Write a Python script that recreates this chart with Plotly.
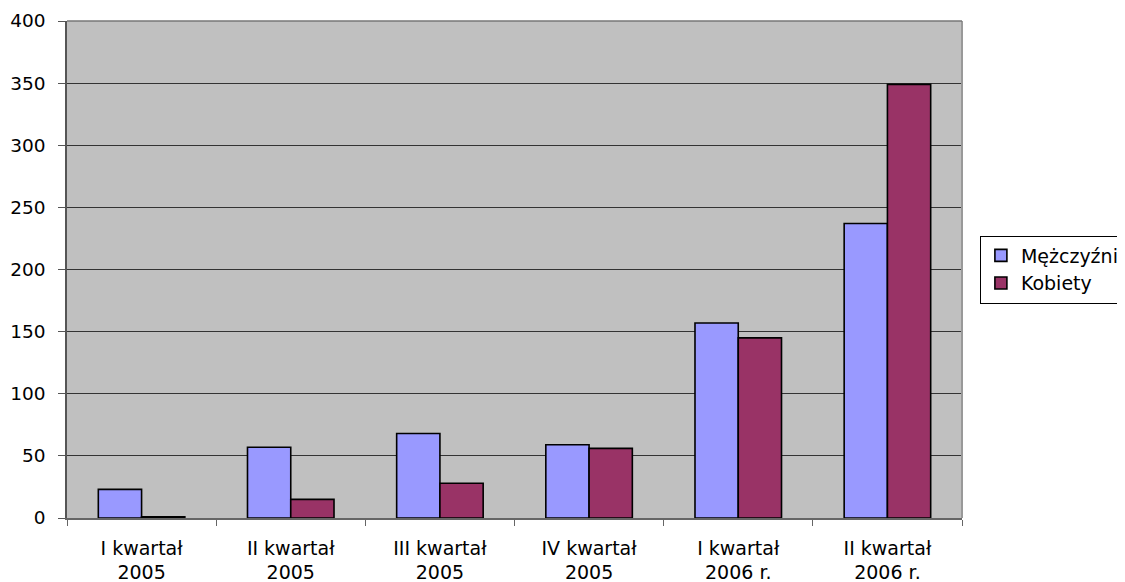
import plotly.graph_objects as go

categories = ["I kwartał<br>2005", "II kwartał<br>2005", "III kwartał<br>2005",
              "IV kwartał<br>2005", "I kwartał<br>2006 r.", "II kwartał<br>2006 r."]
men = [23, 57, 68, 59, 157, 237]
women = [1, 15, 28, 56, 145, 349]
y_ticks = [0, 50, 100, 150, 200, 250, 300, 350, 400]

fig = go.Figure()
fig.add_trace(go.Bar(x=categories, y=men, name="Mężczyźni",
                     marker=dict(color="#9999FF", line=dict(color="#000000", width=1.6))))
fig.add_trace(go.Bar(x=categories, y=women, name="Kobiety",
                     marker=dict(color="#993366", line=dict(color="#000000", width=1.6))))

fam = "DejaVu Sans, Liberation Sans, Arial, sans-serif"
font = dict(family=fam, size=19, color="#000000")
yfont = dict(family=fam, size=18.5, color="#000000")
fig.update_layout(
    width=1125, height=582,
    margin=dict(l=59, r=171, t=13, b=72, autoexpand=False),
    paper_bgcolor="#FFFFFF", plot_bgcolor="#C0C0C0",
    barmode="group", bargap=0.42, bargroupgap=0,
    font=font,
    showlegend=True,
    legend=dict(x=1.02, y=0.5, xanchor="left", yanchor="middle",
                bgcolor="#FFFFFF", bordercolor="#000000", borderwidth=1,
                font=font, itemwidth=30, tracegroupgap=2),
    xaxis=dict(showline=True, linecolor="#666666", linewidth=1.5, mirror=False,
               ticks="outside", tickson="boundaries", ticklen=6, tickcolor="#666666",
               showgrid=False, tickfont=font, automargin=False, ticklabelstandoff=12),
    yaxis=dict(range=[0, 400], tickvals=y_ticks, showline=True, linecolor="#555555",
               linewidth=1.5, ticks="outside", ticklen=7, tickcolor="#555555",
               showgrid=True, gridcolor="#333333", gridwidth=1, zeroline=False,
               tickfont=yfont, automargin=False, ticklabelstandoff=9),
)
fig.add_shape(type="line", xref="paper", yref="paper", x0=1, x1=1, y0=0, y1=1,
              line=dict(color="#999999", width=2))
fig.add_shape(type="line", xref="paper", yref="paper", x0=0, x1=1, y0=1, y1=1,
              line=dict(color="#777777", width=1.5))
fig.write_html("out.html")
